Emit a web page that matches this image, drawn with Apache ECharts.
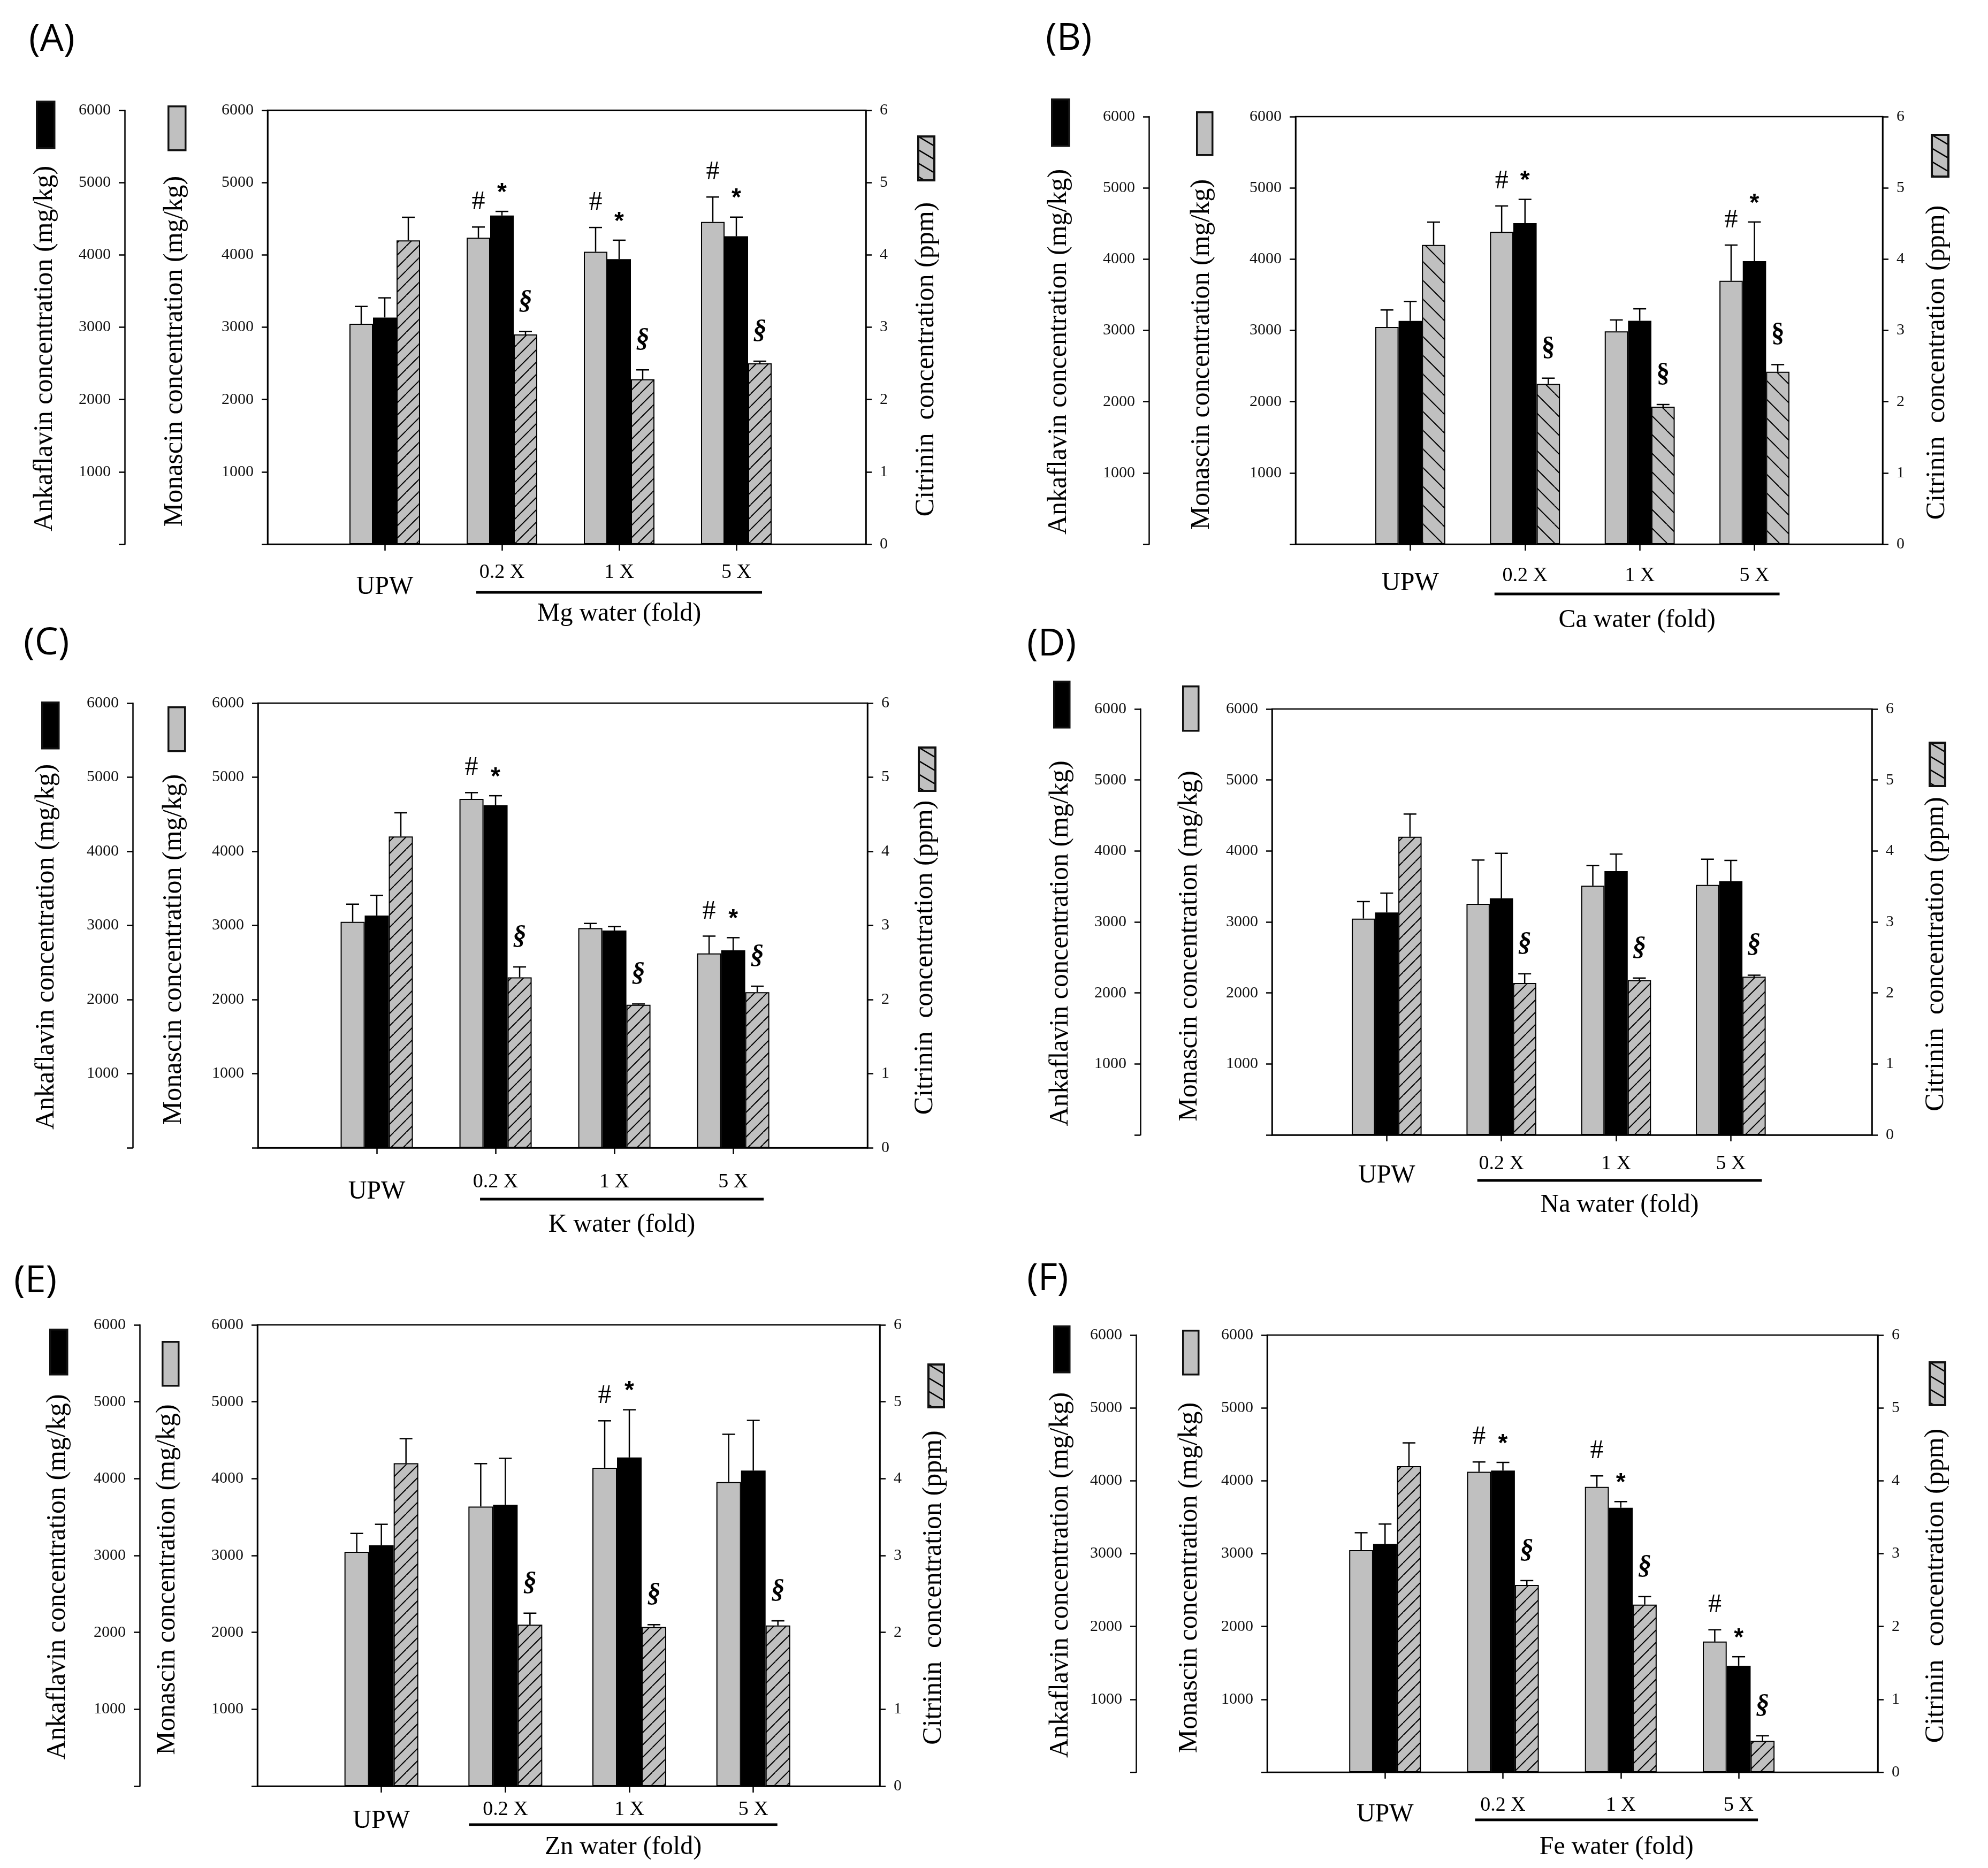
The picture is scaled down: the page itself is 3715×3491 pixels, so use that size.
<!DOCTYPE html>
<html>
<head>
<meta charset="utf-8">
<script src="https://cdn.jsdelivr.net/npm/echarts@6/dist/echarts.min.js"></script>
<style>
html,body{margin:0;padding:0;background:#fff;}
#chart{width:3715px;height:3491px;}
</style>
</head>
<body>
<div id="chart"></div>
<script>
// ---------------- DATA ----------------
const categories = ['UPW', '0.2 X', '1 X', '5 X'];
const panelLetters = ['(A)', '(B)', '(C)', '(D)', '(E)', '(F)'];
const waterLabels = ['Mg water (fold)', 'Ca water (fold)', 'K water (fold)', 'Na water (fold)', 'Zn water (fold)', 'Fe water (fold)'];
const mgTicks = [0, 1000, 2000, 3000, 4000, 5000, 6000];
const ppmTicks = [0, 1, 2, 3, 4, 5, 6];

// Monascin (grey bars, mg/kg)
const monascinMean = [
  [3048, 4237, 4043, 4456],
  [3048, 4383, 2986, 3696],
  [3048, 4707, 2963, 2622],
  [3048, 3256, 3511, 3522],
  [3048, 3637, 4142, 3956],
  [3048, 4123, 3916, 1793]
];
const monascinSD = [
  [239, 148, 336, 344],
  [239, 364, 161, 502],
  [239, 85, 64, 234],
  [239, 616, 284, 362],
  [239, 558, 610, 621],
  [239, 135, 151, 162]
];
// Ankaflavin (black bars, mg/kg)
const ankaflavinMean = [
  [3134, 4544, 3941, 4257],
  [3134, 4505, 3136, 3973],
  [3134, 4622, 2931, 2665],
  [3134, 3333, 3717, 3572],
  [3134, 3659, 4275, 4105],
  [3134, 4140, 3630, 1462]
];
const ankaflavinSD = [
  [272, 57, 262, 265],
  [272, 334, 167, 549],
  [272, 128, 53, 170],
  [272, 634, 239, 295],
  [272, 605, 621, 653],
  [272, 112, 84, 123]
];
// Citrinin (hatched bars, ppm)
const citrininMean = [
  [4.20, 2.90, 2.28, 2.50],
  [4.20, 2.25, 1.93, 2.42],
  [4.20, 2.30, 1.93, 2.10],
  [4.20, 2.14, 2.18, 2.23],
  [4.20, 2.10, 2.07, 2.09],
  [4.20, 2.57, 2.30, 0.43]
];
const citrininSD = [
  [0.32, 0.04, 0.13, 0.03],
  [0.32, 0.08, 0.03, 0.10],
  [0.32, 0.14, 0.01, 0.08],
  [0.32, 0.13, 0.03, 0.02],
  [0.32, 0.15, 0.03, 0.06],
  [0.32, 0.06, 0.11, 0.07]
];
// significance marks
const monascinMarks = [
  ['', '#', '#', '#'], ['', '#', '', '#'], ['', '#', '', '#'],
  ['', '', '', ''], ['', '', '#', ''], ['', '#', '#', '#']
];
const ankaflavinMarks = [
  ['', '*', '*', '*'], ['', '*', '', '*'], ['', '*', '', '*'],
  ['', '', '', ''], ['', '', '*', ''], ['', '*', '*', '*']
];
const citrininMarks = [
  ['', '§', '§', '§'], ['', '§', '§', '§'], ['', '§', '§', '§'],
  ['', '§', '§', '§'], ['', '§', '§', '§'], ['', '§', '§', '§']
];

// ---------------- LAYOUT ----------------
const layout = [
  {gl:500, gr:1618, gt:206, gb:1017, ax:233, xMax:5.105, bw:44, dir:1, s:23, secItalic:true,
   legK:[67,188,33,87], legM:[313,197,32,82], legC:[1714,253,30,82],
   gapK:124, gapM:148, gapC:88, letter:[54,40],
   catDy:53, upwDy:80, lineDy:90, lineL:48, lineR:48, titleDy:130},
  {gl:2421, gr:3518, gt:218, gb:1017, ax:2147, xMax:5.117, bw:43.6, dir:-1, s:35, secItalic:false,
   legK:[1964,184,32,87], legM:[2235,208,29,80], legC:[3608,250,31,78],
   gapK:143, gapM:150, gapC:77, letter:[1954,38],
   catDy:59, upwDy:73, lineDy:93, lineL:57, lineR:47, titleDy:142},
  {gl:482, gr:1621, gt:1314, gb:2145, ax:248, xMax:5.13, bw:45, dir:1, s:23, secItalic:true,
   legK:[77,1311,31,86], legM:[313,1320,31,82], legC:[1715,1395,31,81],
   gapK:136, gapM:132, gapC:83, letter:[44,1168],
   catDy:64, upwDy:82, lineDy:96, lineL:29, lineR:57, titleDy:144},
  {gl:2377, gr:3498, gt:1325, gb:2121, ax:2131, xMax:5.23, bw:43.5, dir:1, s:23, secItalic:true,
   legK:[1968,1272,29,86], legM:[2209,1281,29,83], legC:[3604,1386,29,81],
   gapK:124, gapM:129, gapC:95, letter:[1919,1170],
   catDy:54, upwDy:76, lineDy:85, lineL:45, lineR:58, titleDy:131},
  {gl:481, gr:1644, gt:2476, gb:3338, ax:261, xMax:5.02, bw:46, dir:1, s:23, secItalic:true,
   legK:[92,2483,32,84], legM:[302,2506,30,82], legC:[1733,2548,29,80],
   gapK:128, gapM:143, gapC:76, letter:[26,2360],
   catDy:44, upwDy:65, lineDy:72, lineL:68, lineR:45, titleDy:114},
  {gl:2368, gr:3509, gt:2495, gb:3312, ax:2123, xMax:5.18, bw:44.7, dir:1, s:23, secItalic:true,
   legK:[1968,2477,29,86], legM:[2209,2485,29,82], legC:[3604,2544,29,80],
   gapK:116, gapM:120, gapC:84, letter:[1919,2356],
   catDy:62, upwDy:79, lineDy:89, lineL:52, lineR:36, titleDy:140}
];

const serif = "'Liberation Serif','Times New Roman',serif";
const LW = 2.5;

// 45-degree hatch for bars
function makeHatch(dir, s) {
  const c = document.createElement('canvas');
  c.width = s; c.height = s;
  const g = c.getContext('2d');
  g.fillStyle = '#c0c0c0';
  g.fillRect(0, 0, s, s);
  g.strokeStyle = '#000';
  g.lineWidth = 2;
  g.beginPath();
  for (let k = -1; k <= 1; k++) {
    if (dir > 0) { g.moveTo(k * s, s); g.lineTo(k * s + s, 0); }
    else { g.moveTo(k * s, 0); g.lineTo(k * s + s, s); }
  }
  g.stroke();
  return {image: c, repeat: 'repeat'};
}
// shallow "\" hatch for legend keys
function makeKeyHatch() {
  const w = 42, h = 25;
  const c = document.createElement('canvas');
  c.width = w; c.height = h;
  const g = c.getContext('2d');
  g.fillStyle = '#c0c0c0';
  g.fillRect(0, 0, w, h);
  g.strokeStyle = '#000';
  g.lineWidth = 2.5;
  g.beginPath();
  for (let k = -1; k <= 1; k++) { g.moveTo(0, k * h); g.lineTo(w, k * h + h); }
  g.stroke();
  return {image: c, repeat: 'repeat'};
}
const keyHatch = makeKeyHatch();

const chart = echarts.init(document.getElementById('chart'), null, {renderer: 'canvas'});

const grids = [], xAxes = [], yAxes = [], series = [], legends = [], titles = [];

layout.forEach((L, i) => {
  const tag = ' ' + panelLetters[i];
  grids.push({left: L.gl, top: L.gt, width: L.gr - L.gl, height: L.gb - L.gt,
    show: true, borderColor: '#000', borderWidth: LW, backgroundColor: 'transparent'});
  xAxes.push({type: 'value', gridIndex: i, min: 0, max: L.xMax,
    axisLine: {show: true, onZero: false, lineStyle: {color: '#000', width: LW}},
    axisTick: {show: true, customValues: [1, 2, 3, 4], length: 12, lineStyle: {color: '#000', width: LW}},
    axisLabel: {show: false}, splitLine: {show: false}});
  const mgAxisBase = {type: 'value', gridIndex: i, min: mgTicks[0], max: mgTicks[mgTicks.length - 1],
    interval: mgTicks[1] - mgTicks[0],
    axisLine: {show: true, lineStyle: {color: '#000', width: LW}},
    axisTick: {show: true, length: 11, lineStyle: {color: '#000', width: LW}},
    axisLabel: {margin: 26, fontFamily: serif, fontSize: 30, color: '#111',
      formatter: v => (v === 0 ? '' : String(v))},
    splitLine: {show: false}, nameLocation: 'middle', nameRotate: 90};
  yAxes.push(Object.assign({}, mgAxisBase, {position: 'left', offset: 0,
    name: 'Monascin concentration (mg/kg)', nameGap: L.gapM,
    nameTextStyle: {fontFamily: serif, fontSize: 50, color: '#000', padding: [0, 90, 0, 0]}}));
  yAxes.push(Object.assign({}, mgAxisBase, {position: 'left', offset: L.gl - L.ax,
    name: 'Ankaflavin concentration (mg/kg)', nameGap: L.gapK,
    nameTextStyle: {fontFamily: serif, fontSize: 50, color: '#000', padding: [0, 80, 0, 0]}}));
  yAxes.push({type: 'value', gridIndex: i, position: 'right', min: ppmTicks[0], max: ppmTicks[ppmTicks.length - 1],
    interval: ppmTicks[1] - ppmTicks[0],
    axisLine: {show: true, lineStyle: {color: '#000', width: LW}},
    axisTick: {show: true, length: 11, lineStyle: {color: '#000', width: LW}},
    axisLabel: {margin: 26, fontFamily: serif, fontSize: 30, color: '#111'},
    splitLine: {show: false}, nameLocation: 'middle', nameRotate: 90,
    name: 'Citrinin  concentration (ppm)', nameGap: L.gapC,
    nameTextStyle: {fontFamily: serif, fontSize: 50, color: '#000', padding: [0, 120, 0, 0]}});

  const hatch = makeHatch(L.dir, L.s);
  const measures = [
    {name: 'Monascin' + tag, mean: monascinMean[i], sd: monascinSD[i], marks: monascinMarks[i], y: 3 * i,
     style: {color: '#c0c0c0', borderColor: '#000', borderWidth: 2}, off: -1,
     mark: {font: serif, size: 50, weight: 'normal', gap: 46, italic: false}},
    {name: 'Ankaflavin' + tag, mean: ankaflavinMean[i], sd: ankaflavinSD[i], marks: ankaflavinMarks[i], y: 3 * i + 1,
     style: {color: '#000', borderColor: '#000', borderWidth: 2}, off: 0,
     mark: {font: "'Liberation Sans',Arial,sans-serif", size: 46, weight: 'bold', gap: 34, italic: false}},
    {name: 'Citrinin' + tag, mean: citrininMean[i], sd: citrininSD[i], marks: citrininMarks[i], y: 3 * i + 2,
     style: {color: hatch, borderColor: '#000', borderWidth: 2}, off: 1,
     mark: {font: serif, size: 50, weight: 'bold', gap: 56, italic: L.secItalic}}
  ];
  measures.forEach(m => {
    series.push({type: 'bar', name: m.name, xAxisIndex: i, yAxisIndex: m.y,
      barWidth: L.bw, barGap: '0%', itemStyle: m.style, animation: false,
      data: m.mean.map((v, k) => [k + 1, v])});
  });
  measures.forEach(m => {
    series.push({type: 'custom', name: m.name + ' err', xAxisIndex: i, yAxisIndex: m.y, clip: false,
      animation: false, z: 5,
      data: m.mean.map((v, k) => [k + 1, v, m.sd[k]]),
      renderItem: (params, api) => {
        const x = api.value(0), mv = api.value(1), sd = api.value(2);
        const base = api.coord([x, mv]);
        const top = api.coord([x, mv + sd]);
        const cx = base[0] + m.off * L.bw;
        const children = [
          {type: 'line', shape: {x1: cx, y1: base[1], x2: cx, y2: top[1]}, style: {stroke: '#000', lineWidth: LW}},
          {type: 'line', shape: {x1: cx - 12, y1: top[1], x2: cx + 12, y2: top[1]}, style: {stroke: '#000', lineWidth: LW}}
        ];
        const mk = m.marks[params.dataIndex];
        if (mk) {
          children.push({type: 'text', x: cx, y: top[1] - m.mark.gap,
            style: {text: mk, fill: '#000', align: 'center', verticalAlign: 'middle',
              fontFamily: m.mark.font, fontSize: m.mark.size, fontWeight: m.mark.weight,
              fontStyle: m.mark.italic ? 'italic' : 'normal'}});
        }
        return {type: 'group', children: children};
      }});
  });
  // category labels
  series.push({type: 'custom', name: 'cat' + tag, xAxisIndex: i, yAxisIndex: 3 * i, clip: false, animation: false,
    data: categories.map((c, k) => [k + 1, 0]),
    renderItem: (params, api) => {
      const p = api.coord([api.value(0), 0]);
      const isUPW = params.dataIndex === 0;
      return {type: 'text', x: p[0], y: p[1] + (isUPW ? L.upwDy : L.catDy),
        style: {text: categories[params.dataIndex], fill: '#000', align: 'center', verticalAlign: 'middle',
          fontFamily: serif, fontSize: isUPW ? 48 : 38}};
    }});
  // group underline + title
  series.push({type: 'custom', name: 'group' + tag, xAxisIndex: i, yAxisIndex: 3 * i, clip: false, animation: false,
    data: [[2, 4]],
    renderItem: (params, api) => {
      const a = api.coord([api.value(0), 0]);
      const b = api.coord([api.value(1), 0]);
      const x1 = a[0] - L.lineL, x2 = b[0] + L.lineR;
      return {type: 'group', children: [
        {type: 'line', shape: {x1: x1, y1: a[1] + L.lineDy, x2: x2, y2: a[1] + L.lineDy},
          style: {stroke: '#000', lineWidth: 5}},
        {type: 'text', x: (x1 + x2) / 2, y: a[1] + L.titleDy,
          style: {text: waterLabels[i], fill: '#000', align: 'center', verticalAlign: 'middle',
            fontFamily: serif, fontSize: 48}}
      ]};
    }});

  // legend keys
  const keyDefs = [
    ['Ankaflavin' + tag, L.legK, null],
    ['Monascin' + tag, L.legM, null],
    ['Citrinin' + tag, L.legC, keyHatch]
  ];
  keyDefs.forEach(([nm, r, fill]) => {
    const st = {borderColor: '#111', borderWidth: fill ? 4 : 3.5};
    if (fill) st.color = fill;
    legends.push({show: true, data: [nm], left: r[0], top: r[1], itemWidth: r[2], itemHeight: r[3],
      icon: 'rect', padding: 0, itemGap: 0, selectedMode: false, formatter: () => '',
      itemStyle: st, textStyle: {fontSize: 1}});
  });

  titles.push({text: panelLetters[i], left: L.letter[0], top: L.letter[1], padding: 0,
    textStyle: {fontFamily: "'Open Sans','Noto Sans',sans-serif", fontSize: 70, fontWeight: 'normal', color: '#000'}});
});

chart.setOption({
  animation: false,
  backgroundColor: '#fff',
  title: titles,
  legend: legends,
  grid: grids,
  xAxis: xAxes,
  yAxis: yAxes,
  series: series
});
</script>
</body>
</html>
